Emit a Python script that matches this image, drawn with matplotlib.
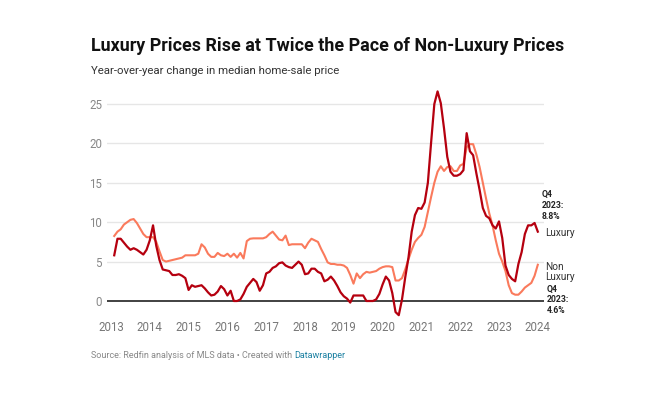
import numpy as np
import matplotlib
matplotlib.use("Agg")
import matplotlib.pyplot as plt

plt.rcParams['font.family'] = ['Roboto', 'DejaVu Sans']

# Monthly series, Feb 2013 .. Jan 2024 (year-over-year % change)
start_year = 2013
start_month = 2
luxury = [
    5.8, 7.9, 7.9, 7.4, 6.9, 6.5, 6.7, 6.5, 6.2, 5.9, 6.5, 7.7,
    9.6, 7.0, 5.2, 4.0, 3.9, 3.8, 3.3, 3.3, 3.4, 3.2, 2.9, 1.4,
    2.0, 1.8, 1.9, 2.0, 1.6, 1.1, 0.7, 0.8, 1.2, 1.9, 1.5, 0.7,
    1.3, 0.0, 0.0, 0.2, 0.9, 1.8, 2.3, 2.8, 2.4, 1.3, 2.0, 3.5,
    3.7, 4.2, 4.4, 4.8, 4.9, 4.5, 4.3, 4.2, 4.6, 5.0, 4.6, 3.4,
    3.5, 4.1, 4.1, 3.7, 3.5, 2.5, 2.7, 3.1, 2.6, 1.9, 1.1, 0.6,
    0.3, -0.2, 0.7, 0.7, 0.7, 0.7, 0.0, 0.0, 0.0, 0.2, 0.9, 2.1,
    3.1, 2.6, 1.0, -1.4, -1.8, 0.2, 3.0, 5.5, 8.8, 10.9, 11.8, 11.7,
    12.5, 15.0, 20.1, 25.0, 26.6, 25.1, 21.9, 18.3, 16.4, 15.9, 15.9, 16.1,
    16.6, 21.3, 19.0, 18.5, 16.2, 14.1, 11.8, 10.8, 10.5, 9.6, 9.2, 10.1,
    8.0, 4.5, 3.3, 2.8, 2.5, 4.7, 6.2, 8.5, 9.6, 9.6, 9.9, 8.8,
]
non_luxury = [
    8.25, 8.8, 9.1, 9.7, 10.0, 10.3, 10.4, 9.9, 9.2, 8.5, 8.1, 8.1,
    8.1, 7.5, 6.3, 5.2, 5.0, 5.1, 5.2, 5.3, 5.4, 5.5, 5.8, 5.8,
    5.8, 5.8, 6.0, 7.2, 6.8, 6.0, 5.6, 5.6, 6.1, 5.8, 5.7, 6.0,
    5.6, 6.0, 5.5, 6.1, 5.4, 7.6, 7.9, 7.95, 7.95, 7.95, 7.95, 8.1,
    8.5, 8.8, 8.3, 7.8, 7.7, 8.3, 7.1, 7.2, 7.2, 7.2, 7.2, 6.7,
    7.4, 7.9, 7.7, 7.5, 6.6, 5.8, 4.9, 4.7, 4.7, 4.6, 4.6, 4.5,
    4.2, 3.3, 2.2, 3.5, 2.9, 3.4, 3.7, 3.6, 3.7, 3.8, 4.1, 4.3,
    4.4, 4.4, 4.3, 2.6, 2.6, 2.9, 4.0, 5.3, 6.5, 7.5, 8.0, 8.4,
    9.4, 11.3, 13.2, 15.0, 16.4, 17.1, 16.5, 17.0, 17.1, 16.5, 16.5, 17.2,
    17.4, 19.5, 19.9, 19.9, 18.6, 17.0, 15.0, 13.0, 11.1, 9.6, 7.7, 6.0,
    5.0, 3.8, 2.0, 1.0, 0.8, 0.8, 1.2, 1.7, 2.0, 2.3, 3.2, 4.6,
]
year_ticks = list(range(2013, 2025))
y_ticks = [0, 5, 10, 15, 20, 25]

lux_color = '#b5000f'
non_color = '#fa7a5c'

x = start_year + (start_month - 1 + np.arange(len(luxury))) / 12.0

W, H = 650, 394
fig = plt.figure(figsize=(W / 100, H / 100), dpi=100)
fig.patch.set_facecolor('white')

# axes placement (pixels)
ax_l, ax_r, ax_t, ax_b = 107, 544, 88, 318
ax = fig.add_axes([ax_l / W, 1 - ax_b / H, (ax_r - ax_l) / W, (ax_b - ax_t) / H])

px_per_year = 38.8
x0_px = 111
xlim = (2013 + (ax_l - x0_px) / px_per_year, 2013 + (ax_r - x0_px) / px_per_year)
px_per_unit = 7.88
zero_px = 301
ylim = ((zero_px - ax_b) / px_per_unit, (zero_px - ax_t) / px_per_unit)
ax.set_xlim(*xlim)
ax.set_ylim(*ylim)

for v in y_ticks[1:]:
    ax.axhline(v, color='#e6e6e6', lw=1.0, zorder=1)
ax.axhline(0, color='#333333', lw=1.3, zorder=2)

ax.plot(x, non_luxury, color=non_color, lw=1.5, zorder=3, solid_joinstyle='round')
ax.plot(x, luxury, color=lux_color, lw=1.6, zorder=4, solid_joinstyle='round')

for s in ax.spines.values():
    s.set_visible(False)
ax.set_yticks(y_ticks)
ax.set_yticklabels([str(v) for v in y_ticks])
ax.set_xticks(year_ticks)
ax.set_xticklabels([str(v) for v in year_ticks])
ax.tick_params(axis='y', length=0, pad=3.6, labelsize=8.3, labelcolor='#888888')
ax.tick_params(axis='x', length=0, pad=2.5, labelsize=8.3, labelcolor='#777777')
ax.set_facecolor('white')

# end labels
xl, yl = x[-1], luxury[-1]
xn, yn = x[-1], non_luxury[-1]
ax.annotate('Q4\n2023:\n%.1f%%' % yl, xy=(xl, yl), xytext=(4, 26), textcoords='offset pixels',
            ha='left', va='center', fontsize=6.2, fontweight='bold', color='#222222',
            linespacing=1.25, annotation_clip=False)
ax.annotate('Luxury', xy=(xl, yl), xytext=(7, -1.5), textcoords='offset pixels',
            ha='left', va='center', fontsize=7.2, color='#333333', annotation_clip=False)
ax.annotate('Non\nLuxury', xy=(xn, yn), xytext=(7, -7), textcoords='offset pixels',
            ha='left', va='center', fontsize=7.2, color='#333333', linespacing=1.05,
            annotation_clip=False)
ax.annotate('Q4\n2023:\n%.1f%%' % yn, xy=(xn, yn), xytext=(9, -35), textcoords='offset pixels',
            ha='left', va='center', fontsize=6.2, fontweight='bold', color='#222222',
            linespacing=1.25, annotation_clip=False)

# titles
fig.text(91 / W, 1 - 51 / H, 'Luxury Prices Rise at Twice the Pace of Non-Luxury Prices',
         ha='left', va='baseline', fontsize=12.9, fontweight='bold', color='#111111')
fig.text(91 / W, 1 - 74 / H, 'Year-over-year change in median home-sale price',
         ha='left', va='baseline', fontsize=8.2, color='#333333')

t1 = fig.text(91 / W, 1 - 358 / H, 'Source: Redfin analysis of MLS data \u2022 Created with ',
              ha='left', va='baseline', fontsize=6.45, color='#888888')
ax.annotate('Datawrapper', xy=(1, 0), xycoords=t1, va='bottom', ha='left',
            fontsize=6.45, color='#1d81a2', annotation_clip=False)

fig.savefig('out.png', dpi=100, facecolor='white')
